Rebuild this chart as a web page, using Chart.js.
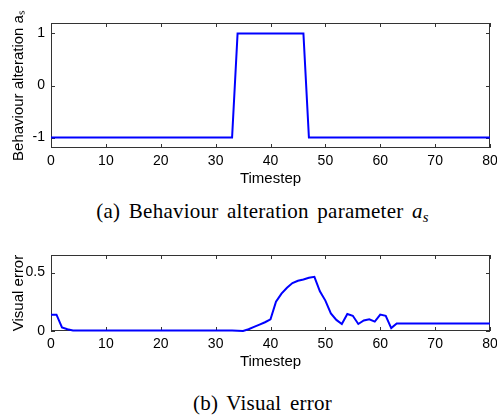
<!DOCTYPE html>
<html>
<head>
<meta charset="utf-8">
<script src="https://cdn.jsdelivr.net/npm/chart.js@4"></script>
<style>
  html, body { margin: 0; padding: 0; background: #fff; }
  body { width: 497px; height: 418px; position: relative; overflow: hidden; }
  canvas { position: absolute; left: 0; }
  .caption {
    position: absolute; left: 28px; width: 469px; text-align: center;
    font-family: "Liberation Serif", "Times New Roman", serif; font-size: 21px;
    line-height: 24px; color: #000; word-spacing: 3px; letter-spacing: 0.25px; white-space: nowrap;
  }
  .caption sub { font-size: 70%; vertical-align: -0.3em; line-height: 0; }
</style>
</head>
<body>
<canvas id="alteration" width="497" height="192" style="top:0"></canvas>
<div class="caption" style="top:199px">(a) Behaviour alteration parameter <i>a</i><sub><i>s</i></sub></div>
<canvas id="visualError" width="497" height="143" style="top:232px"></canvas>
<div class="caption" style="top:391px">(b) Visual error</div>
<script>
// behaviour alteration parameter (changes only at these timesteps)
const alterationSteps = [0, 33, 34, 46, 47, 80];
const alterationValues = [-1, -1, 1, 1, -1, -1];

// visual error per timestep
const errorSteps = [
  0, 1, 2, 3, 4, 5, 6, 7, 8, 9, 10, 11, 12, 13, 14, 15, 16, 17, 18, 19, 20,
  21, 22, 23, 24, 25, 26, 27, 28, 29, 30, 31, 32, 33, 34, 35, 36, 37, 38, 39, 40,
  41, 42, 43, 44, 45, 46, 47, 48, 49, 50, 51, 52, 53, 54, 55, 56, 57, 58, 59, 60,
  61, 62, 63, 64, 65, 66, 67, 68, 69, 70, 71, 72, 73, 74, 75, 76, 77, 78, 79, 80
];
const errorValues = [
  0.14, 0.14, 0.03, 0.015, 0.005, 0.005, 0.005, 0.005, 0.005, 0.005, 0.005,
  0.005, 0.005, 0.005, 0.005, 0.004, 0.004, 0.005, 0.005, 0.005, 0.004,
  0.004, 0.005, 0.005, 0.005, 0.004, 0.004, 0.005, 0.005, 0.005, 0.005,
  0.005, 0.005, 0.005, 0.003, 0.0, 0.015, 0.035, 0.055, 0.075, 0.1,
  0.25, 0.32, 0.37, 0.41, 0.43, 0.44, 0.455, 0.463, 0.34, 0.26,
  0.15, 0.095, 0.06, 0.145, 0.13, 0.06, 0.09, 0.1, 0.08, 0.14,
  0.13, 0.025, 0.065, 0.065, 0.065, 0.065, 0.065, 0.065, 0.065, 0.065,
  0.065, 0.065, 0.065, 0.065, 0.065, 0.065, 0.065, 0.065, 0.065, 0.065
];

const xTicks = [0, 10, 20, 30, 40, 50, 60, 70, 80];
const alterationTicks = [-1, 0, 1];
const errorTicks = [0, 0.5];

const AXIS = "#333";
const LINE = "#0000ff";
const SANS = "'Liberation Sans', Arial, Helvetica, sans-serif";
const TICK_LEN = 4;

// matlab-style box with inward ticks on every side
const boxTicks = {
  id: 'boxTicks',
  beforeDatasetsDraw(chart) {
    const { ctx, chartArea: { left, right, top, bottom }, scales: { x, y } } = chart;
    ctx.save();
    ctx.strokeStyle = AXIS;
    ctx.lineWidth = 1;
    ctx.strokeRect(left + 0.5, top + 0.5, right - left - 1, bottom - top - 1);
    ctx.beginPath();
    x.ticks.forEach(t => {
      const px = Math.round(x.getPixelForValue(t.value)) + 0.5;
      ctx.moveTo(px, bottom); ctx.lineTo(px, bottom - TICK_LEN);
      ctx.moveTo(px, top); ctx.lineTo(px, top + TICK_LEN);
    });
    y.ticks.forEach(t => {
      const py = Math.round(y.getPixelForValue(t.value)) + 0.5;
      ctx.moveTo(left, py); ctx.lineTo(left + TICK_LEN, py);
      ctx.moveTo(right, py); ctx.lineTo(right - TICK_LEN, py);
    });
    ctx.stroke();
    ctx.restore();
  }
};

function makeChart(id, steps, values, yMin, yMax, yTicks, yTitle) {
  const ctx = document.getElementById(id).getContext('2d');
  return new Chart(ctx, {
    type: 'line',
    data: {
      datasets: [{
        data: steps.map((s, i) => ({ x: s, y: values[i] })),
        borderColor: LINE,
        borderWidth: 2,
        pointRadius: 0,
        tension: 0,
        clip: false
      }]
    },
    options: {
      responsive: false,
      animation: false,
      devicePixelRatio: 1,
      layout: { padding: { top: 23, right: 7, left: 0, bottom: 0 } },
      plugins: { legend: { display: false }, tooltip: { enabled: false } },
      scales: {
        x: {
          type: 'linear', min: 0, max: 80,
          afterBuildTicks: s => { s.ticks = xTicks.map(v => ({ value: v })); },
          afterFit: s => { s.height = 44; s.paddingLeft = 0; s.paddingRight = 0; },
          grid: { display: false, drawTicks: false },
          border: { display: false },
          ticks: { padding: 5, maxRotation: 0, color: '#000', font: { family: SANS, size: 14 } },
          title: { display: true, text: 'Timestep', color: '#000', font: { family: SANS, size: 15 }, padding: { top: 0, bottom: 4 } }
        },
        y: {
          type: 'linear', min: yMin, max: yMax,
          afterBuildTicks: s => { s.ticks = yTicks.map(v => ({ value: v })); },
          afterFit: s => { s.width = 51; s.paddingTop = 0; s.paddingBottom = 0; },
          grid: { display: false, drawTicks: false },
          border: { display: false },
          ticks: { padding: 6, color: '#000', font: { family: SANS, size: 14 } },
          title: { display: true, text: yTitle, color: '#000', font: { family: SANS, size: 15 }, padding: { top: 10, bottom: 0 } }
        }
      }
    },
    plugins: [boxTicks]
  });
}

makeChart('alteration', alterationSteps, alterationValues, -1.2, 1.2, alterationTicks, 'Behaviour alteration a\u209B');
makeChart('visualError', errorSteps, errorValues, 0, 0.65, errorTicks, 'Visual error');
</script>
</body>
</html>
